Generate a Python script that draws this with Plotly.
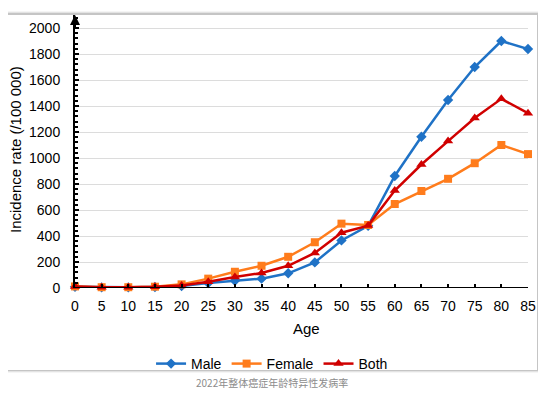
import plotly.graph_objects as go

ages = [0, 5, 10, 15, 20, 25, 30, 35, 40, 45, 50, 55, 60, 65, 70, 75, 80, 85]
male = [10, 5, 5, 8, 15, 38, 56, 72, 113, 197, 366, 478, 862, 1164, 1446, 1700, 1900, 1838]
female = [12, 6, 6, 10, 28, 72, 125, 171, 240, 352, 495, 485, 646, 746, 840, 960, 1100, 1030]
both = [11, 5, 5, 9, 20, 48, 85, 115, 171, 270, 425, 480, 750, 950, 1130, 1308, 1455, 1345]

y_ticks = list(range(0, 2001, 200))
x_ticks = ages

# page offset of the plotly div (body margin)
OFF = 8
PL, PT, PW, PH = 75, 15, 453, 273   # plot area in page pixels


def px(x):
    return (x - PL) / PW


def py(y):
    return (PT + PH - y) / PH


fig = go.Figure()
series = [
    ("Male", male, "#1f72c6", "diamond", 8),
    ("Female", female, "#ff7c1c", "square", 8),
    ("Both", both, "#d00000", "triangle-up", 9),
]
for name, vals, col, sym, sz in series:
    fig.add_trace(go.Scatter(
        x=ages, y=vals, name=name, mode="lines+markers",
        line=dict(color=col, width=2.5),
        marker=dict(symbol=sym, size=sz, color=col),
        cliponaxis=False,
    ))

shapes = []
for i, op in enumerate([0.04, 0.07, 0.13]):
    d = 3 - i
    shapes.append(dict(type="rect", xref="paper", yref="paper",
                       x0=px(8 - d), x1=px(537 + d),
                       y0=py(370 + d), y1=py(14 - d),
                       line=dict(width=0), fillcolor=f"rgba(0,0,0,{op})", layer="below"))
shapes.append(dict(type="rect", xref="paper", yref="paper",
                   x0=px(8), x1=px(537), y0=py(370), y1=py(15),
                   line=dict(width=0), fillcolor="white", layer="below"))

fig.update_layout(
    width=546 - OFF, height=399 - OFF,
    margin=dict(l=PL - OFF, r=546 - OFF - (PL - OFF) - PW, t=PT - OFF,
                b=399 - OFF - (PT - OFF) - PH, autoexpand=False),
    paper_bgcolor="white", plot_bgcolor="rgba(0,0,0,0)",
    font=dict(family="Liberation Sans, Arial", size=14, color="black"),
    shapes=shapes,
    showlegend=True,
    legend=dict(orientation="h", x=0.435, xanchor="center", y=py(364), yanchor="middle",
                font=dict(size=14), itemwidth=30, bgcolor="rgba(0,0,0,0)"),
    annotations=[
        dict(x=0, y=2100, xref="x", yref="y", ax=0, ay=14, axref="pixel", ayref="pixel",
             text="", showarrow=True, arrowhead=2, arrowsize=1, arrowwidth=2, arrowcolor="black"),
        dict(text="Incidence rate (/100 000)", xref="paper", yref="paper",
             x=px(15), y=py(150), xanchor="center", yanchor="middle", textangle=-90,
             showarrow=False, font=dict(size=15)),
        dict(text="Age", xref="paper", yref="paper",
             x=px(306), y=py(328), xanchor="center", yanchor="middle",
             showarrow=False, font=dict(size=15)),
        dict(text="2022年整体癌症年龄特异性发病率", xref="paper", yref="paper",
             x=px(272), y=py(382), xanchor="center", yanchor="middle",
             showarrow=False, font=dict(size=10, color="#8c8c8c",
                                        family="Noto Sans CJK SC, Liberation Sans")),
    ],
)
fig.update_xaxes(
    range=[0, 85], tickvals=x_ticks, ticktext=[str(a) for a in x_ticks],
    showgrid=False, zeroline=False, showline=False,
    ticks="inside", ticklen=4, tickwidth=1.5, tickcolor="black",
    ticklabelstandoff=8, automargin=False,
    fixedrange=True,
)
fig.update_yaxes(
    range=[0, 2100], tickvals=y_ticks, ticktext=[str(v) for v in y_ticks],
    showgrid=True, gridcolor="#dcdcdc", gridwidth=1, zeroline=False,
    showline=True, linecolor="black", linewidth=2,
    ticks="inside", ticklen=4, tickwidth=1.5, tickcolor="black",
    minor=dict(dtick=40, ticks="inside", ticklen=3, tickcolor="black", showgrid=False),
    ticklabelstandoff=10, automargin=False,
    fixedrange=True,
)
fig.add_hline(y=0, line=dict(color="black", width=2))

fig.write_html("out.html")
